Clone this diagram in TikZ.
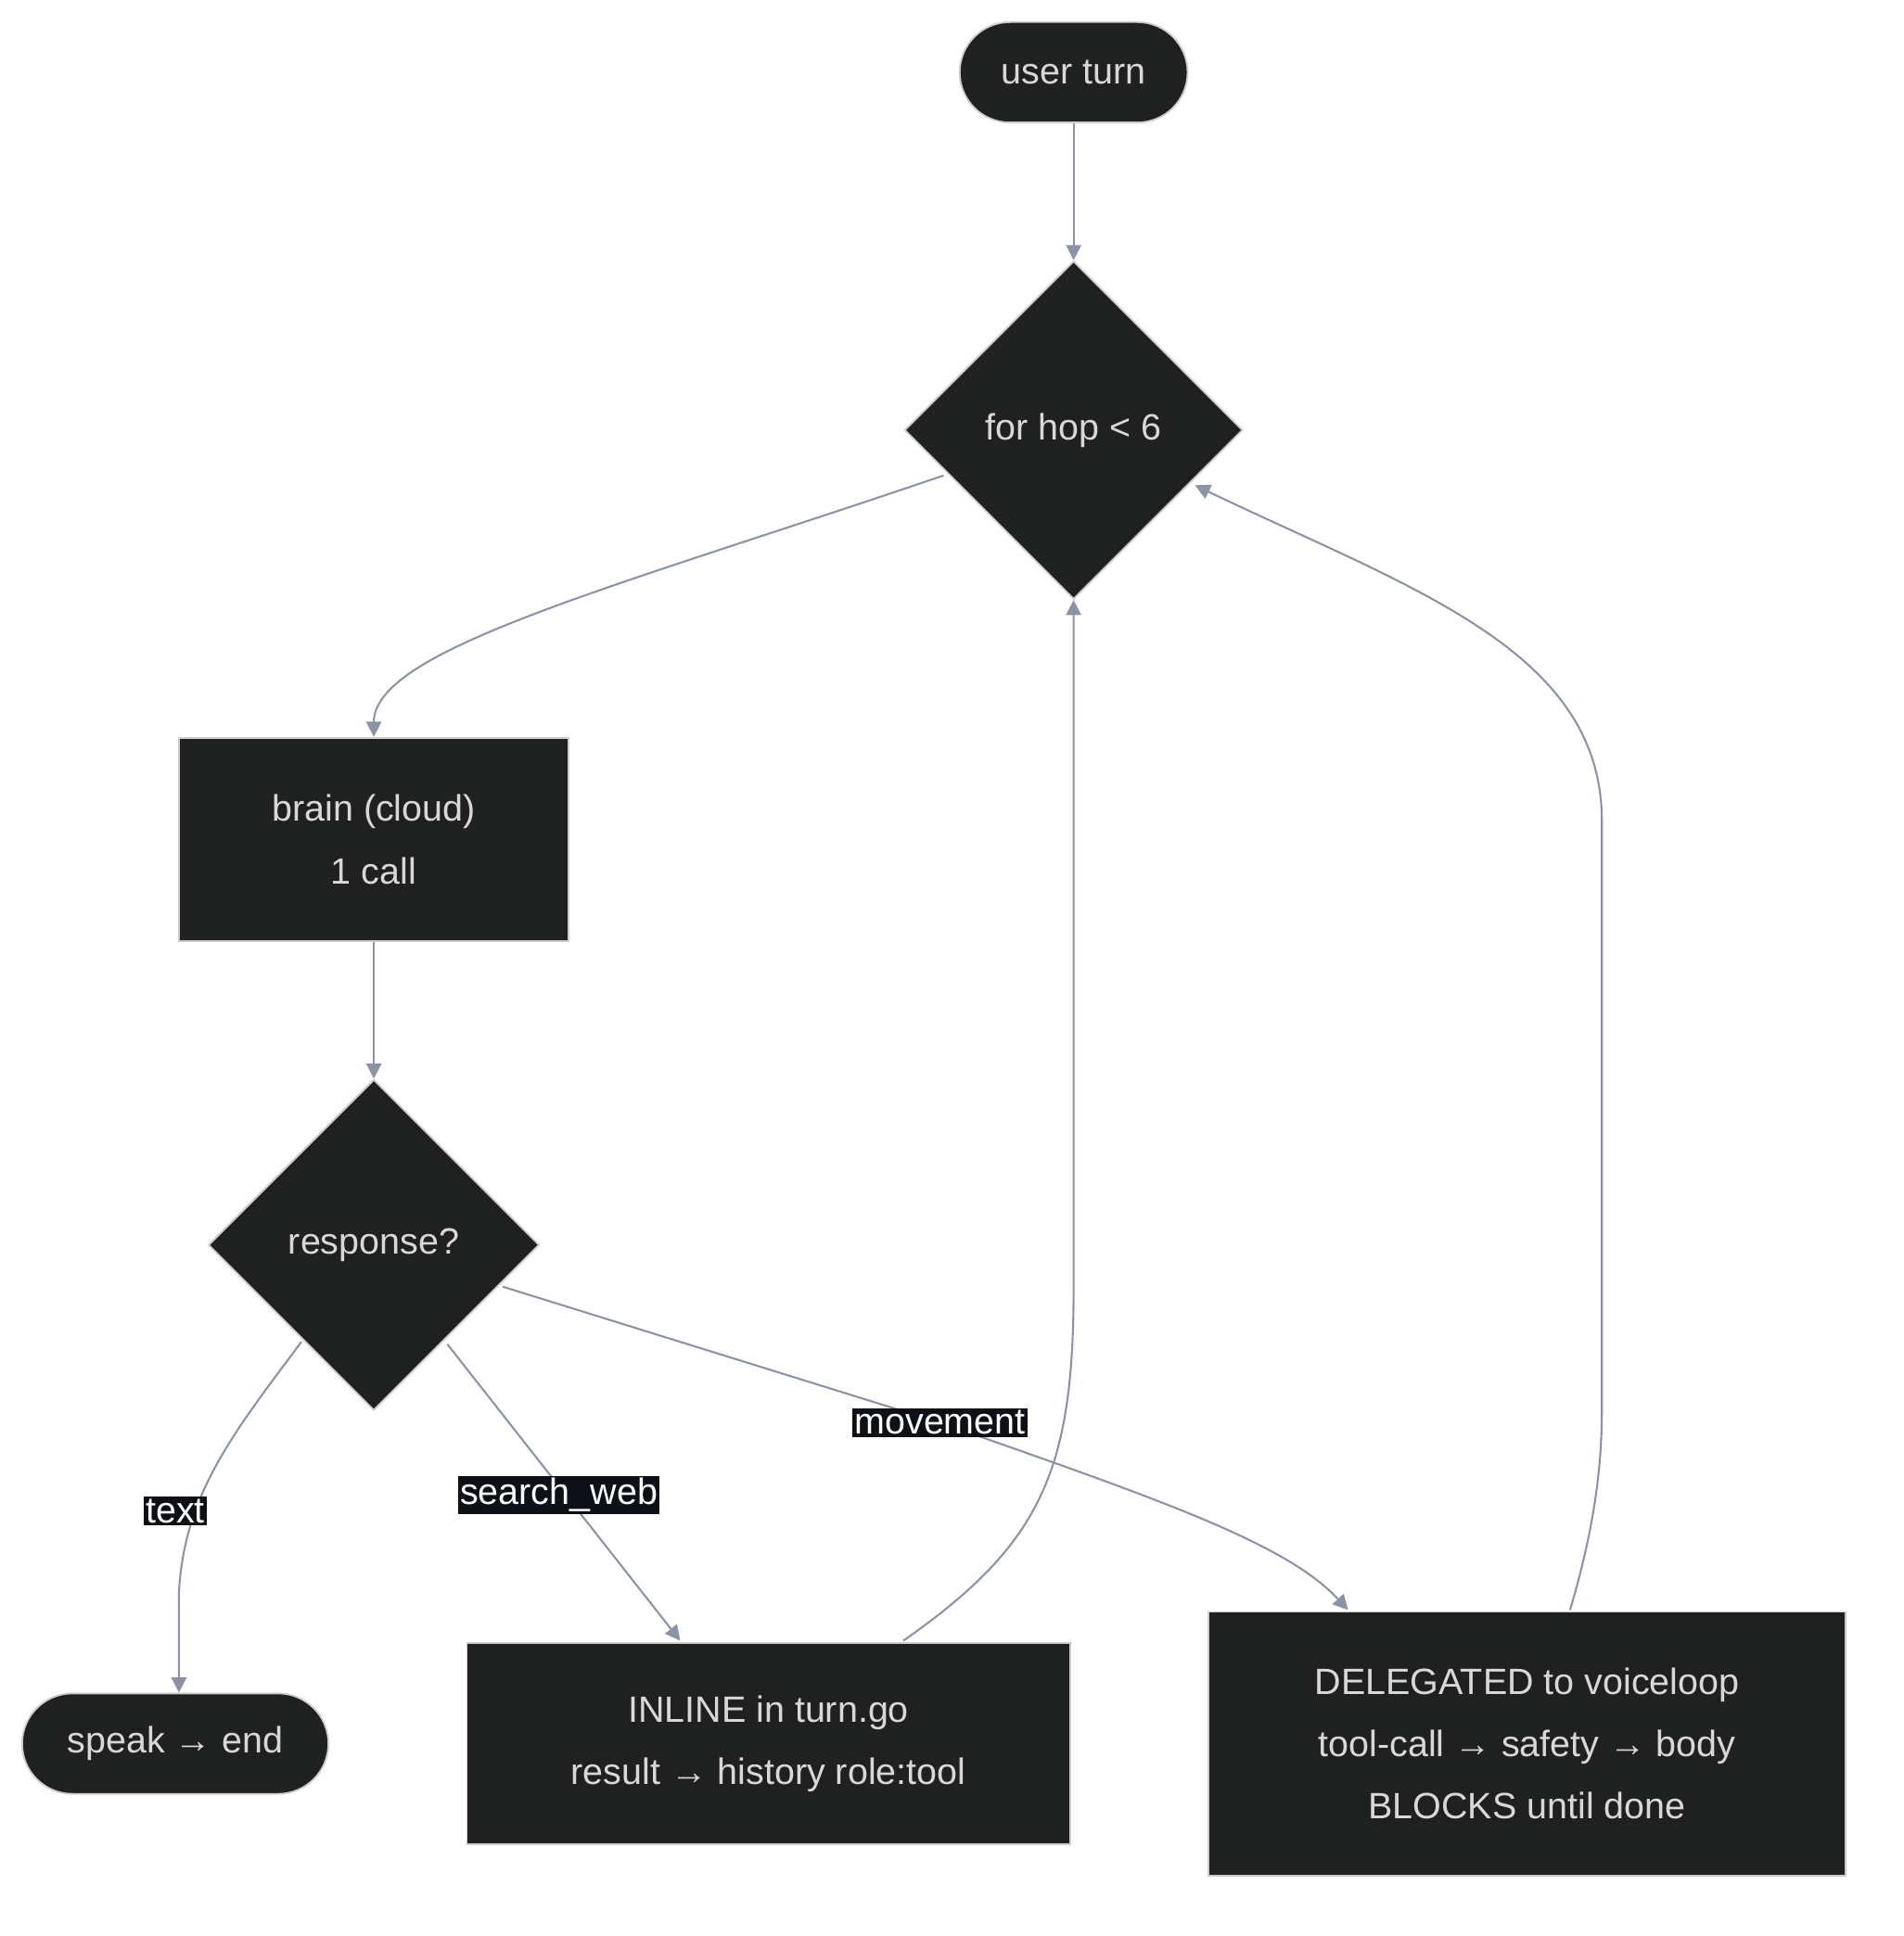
\documentclass[tikz,border=0pt]{standalone}
\usepackage{fontspec}
\setmainfont{Liberation Sans}
\usetikzlibrary{arrows.meta,shapes.geometric}
\definecolor{nodefill}{HTML}{1F2020}
\definecolor{nodeline}{HTML}{CCCCCC}
\definecolor{nodetext}{HTML}{D8D8D8}
\definecolor{edgecol}{HTML}{8A94A6}
\definecolor{lblfill}{HTML}{0D1117}
\begin{document}
\begin{tikzpicture}[
    x=0.02cm, y=-0.02cm,
    font=\fontsize{17}{29}\selectfont,
    >={Triangle[length=7pt,width=7pt]},
    box/.style = {
      draw = nodeline,
      fill = nodefill,
      text = nodetext,
      align = center,
      line width = 0.8pt
    },
    term/.style = {box, rounded rectangle},
    dec/.style = {box, diamond, minimum width=5.52cm, minimum height=5.52cm, inner sep=0pt},
    flow/.style = {draw = edgecol, line width = 0.9pt, ->},
    lbl/.style = {fill = lblfill, text = white, inner sep = 1pt}
  ]
  \useasboundingbox (0,0) rectangle (1553,1580);

  \node[box, shape=rectangle, rounded corners=41*0.02cm, minimum width=3.72cm, minimum height=1.64cm] (user) at (876,59) {user turn};
  \node[dec] (hop) at (876,351) {for hop < 6};
  \node[box, minimum width=6.36cm, minimum height=3.32cm] (brain) at (305,685) {brain (cloud)\\1 call};
  \node[dec, minimum width=5.4cm, minimum height=5.4cm] (resp) at (305,1016) {response?};
  \node[box, rounded corners=41*0.02cm, minimum width=5cm, minimum height=1.64cm] (speak) at (143,1423) {speak → end};
  \node[box, minimum width=9.84cm, minimum height=3.28cm] (inline) at (627,1423) {INLINE in turn.go\\result → history role:tool};
  \node[box, minimum width=10.4cm, minimum height=4.3cm] (deleg) at (1246,1423) {DELEGATED to voiceloop\\tool-call → safety → body\\BLOCKS until done};

  \draw[flow] (user) -- (hop);
  \draw[flow] (770,388) .. controls (500,480) and (305,530) .. (brain.north);
  \draw[flow] (brain) -- (resp);
  \draw[flow] (246,1095) .. controls (190,1170) and (150,1220) .. (146,1300) -- (speak.north -| 146,0);
  \draw[flow] (365,1097) -- (555,1339);
  \draw[flow] (410,1050) -- (767,1161) .. controls (950,1225) and (1050,1260) .. (1100,1314);
  \draw[flow] (737,1339) .. controls (850,1260) and (876,1200) .. (876,1050) -- (hop.south);
  \draw[flow] (1281,1314) .. controls (1300,1250) and (1307,1200) .. (1307,1150) -- (1307,670) .. controls (1307,530) and (1150,480) .. (975,396);

  \node[lbl] (ltext) at (143,1233) {text};
  \node[lbl] (lsearch) at (456,1220) {search\_web};
  \node[lbl] (lmove) at (767,1161) {movement};
\end{tikzpicture}
\end{document}
